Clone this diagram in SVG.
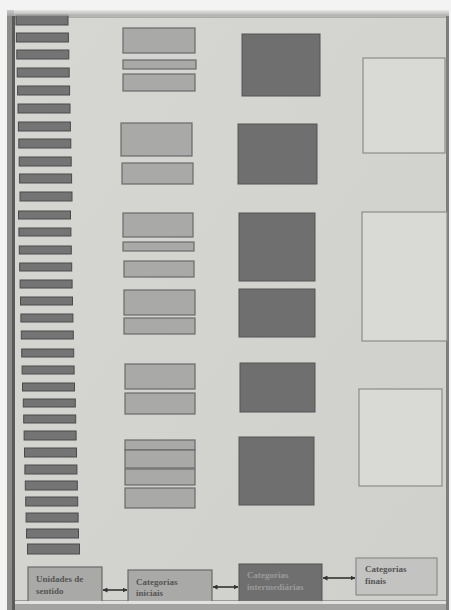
<svg xmlns="http://www.w3.org/2000/svg" width="451" height="610" viewBox="0 0 451 610">
<defs>
<linearGradient id="page" x1="0" y1="0" x2="1" y2="1">
<stop offset="0" stop-color="#d6d6d3"/>
<stop offset="0.5" stop-color="#d3d3d0"/>
<stop offset="1" stop-color="#cfcfcb"/>
</linearGradient>
<linearGradient id="topband" x1="0" y1="0" x2="0" y2="1">
<stop offset="0" stop-color="#e8e8e8"/>
<stop offset="1" stop-color="#a9a9a7"/>
</linearGradient>
<marker id="ah" viewBox="0 0 10 10" refX="9" refY="5" markerWidth="5" markerHeight="5" orient="auto-start-reverse" markerUnits="userSpaceOnUse">
<path d="M0,0 L10,5 L0,10 z" fill="#333"/>
</marker>
<style>
.bar{fill:#747474;stroke:#4a4a4a;stroke-width:1}
.ini{fill:#a9a9a8;stroke:#6a6a6a;stroke-width:1.2}
.mid{fill:#6f6f6f;stroke:#555;stroke-width:1}
.fin{fill:#d9d9d6;stroke:#8c8c8c;stroke-width:1.2}
.lbl{font-family:"Liberation Serif",serif;font-weight:bold;font-size:9px;fill:#555}
.lblm{font-family:"Liberation Serif",serif;font-weight:bold;font-size:9px;fill:#9a9a9a}
.conn{stroke:#333;stroke-width:1.6;fill:none;marker-start:url(#ah);marker-end:url(#ah)}
</style>
</defs>
<!-- photo surround -->
<rect x="0" y="0" width="451" height="610" fill="#f3f3f3"/>
<rect x="7" y="10" width="442" height="600" fill="#9a9a98"/>
<rect x="7" y="10" width="442" height="8" fill="url(#topband)"/>
<rect x="7" y="10" width="7" height="600" fill="#8c8c8a"/>
<rect x="12" y="16" width="3" height="594" fill="#5a5a58"/>
<rect x="446" y="16" width="3" height="594" fill="#7d7d7b"/>
<!-- page -->
<rect x="15" y="18" width="431" height="582" fill="url(#page)"/>

<g id="unidades-bars">
<rect class="bar" x="16.0" y="15" width="52" height="10"/>
<rect class="bar" x="16.4" y="33" width="52" height="9"/>
<rect class="bar" x="16.8" y="50" width="52" height="9"/>
<rect class="bar" x="17.2" y="68" width="52" height="9"/>
<rect class="bar" x="17.6" y="86" width="52" height="9"/>
<rect class="bar" x="18.0" y="104" width="52" height="9"/>
<rect class="bar" x="18.4" y="122" width="52" height="9"/>
<rect class="bar" x="18.8" y="139" width="52" height="9"/>
<rect class="bar" x="19.2" y="157" width="52" height="9"/>
<rect class="bar" x="19.6" y="174" width="52" height="9"/>
<rect class="bar" x="20.0" y="192" width="52" height="9"/>
<rect class="bar" x="18.5" y="211" width="52" height="8"/>
<rect class="bar" x="18.9" y="228" width="52" height="8"/>
<rect class="bar" x="19.3" y="246" width="52" height="8"/>
<rect class="bar" x="19.7" y="263" width="52" height="8"/>
<rect class="bar" x="20.1" y="280" width="52" height="8"/>
<rect class="bar" x="20.5" y="297" width="52" height="8"/>
<rect class="bar" x="20.9" y="314" width="52" height="8"/>
<rect class="bar" x="21.3" y="331" width="52" height="8"/>
<rect class="bar" x="21.7" y="349" width="52" height="8"/>
<rect class="bar" x="22.1" y="366" width="52" height="8"/>
<rect class="bar" x="22.5" y="383" width="52" height="8"/>
<rect class="bar" x="23.3" y="399" width="52" height="8"/>
<rect class="bar" x="23.7" y="415" width="52" height="8"/>
<rect class="bar" x="24.1" y="431" width="52" height="9"/>
<rect class="bar" x="24.5" y="448" width="52" height="9"/>
<rect class="bar" x="24.9" y="465" width="52" height="9"/>
<rect class="bar" x="25.3" y="481" width="52" height="9"/>
<rect class="bar" x="25.7" y="497" width="52" height="9"/>
<rect class="bar" x="26.1" y="513" width="52" height="9"/>
<rect class="bar" x="26.5" y="529" width="52" height="9"/>
<rect class="bar" x="27.5" y="544" width="52" height="10"/>
</g>
<!-- top frame edge overlapping first bar -->
<rect x="7" y="10" width="442" height="6" fill="url(#topband)" opacity="0.7"/>

<g id="categorias-iniciais-grupos">
<rect class="ini" x="123" y="28" width="72" height="25"/>
<rect class="ini" x="123" y="60" width="73" height="9"/>
<rect class="ini" x="123" y="74" width="72" height="17"/>
<rect class="ini" x="121" y="123" width="71" height="33"/>
<rect class="ini" x="122" y="163" width="71" height="21"/>
<rect class="ini" x="123" y="213" width="70" height="24"/>
<rect class="ini" x="123" y="242" width="71" height="9"/>
<rect class="ini" x="124" y="261" width="70" height="16"/>
<rect class="ini" x="124" y="290" width="71" height="25"/>
<rect class="ini" x="124" y="318" width="71" height="16"/>
<rect class="ini" x="125" y="364" width="70" height="25"/>
<rect class="ini" x="125" y="393" width="70" height="21"/>
<rect class="ini" x="125" y="440" width="70" height="10"/>
<rect class="ini" x="125" y="450" width="70" height="18"/>
<rect class="ini" x="125" y="469" width="70" height="16"/>
<rect class="ini" x="125" y="488" width="70" height="20"/>
</g>

<g id="categorias-intermediarias-grupos">
<rect class="mid" x="242" y="34" width="78" height="62"/>
<rect class="mid" x="238" y="124" width="79" height="60"/>
<rect class="mid" x="239" y="213" width="76" height="68"/>
<rect class="mid" x="239" y="289" width="76" height="48"/>
<rect class="mid" x="240" y="363" width="75" height="49"/>
<rect class="mid" x="239" y="437" width="75" height="68"/>
</g>

<g id="categorias-finais-grupos">
<rect class="fin" x="363" y="58" width="82" height="95"/>
<rect class="fin" x="362" y="212" width="85" height="129"/>
<rect class="fin" x="359" y="389" width="83" height="97"/>
</g>

<g id="connectors">
<line class="conn" x1="103" y1="590" x2="127" y2="590"/>
<line class="conn" x1="213" y1="587" x2="238" y2="587"/>
<line class="conn" x1="323" y1="578" x2="355" y2="578"/>
</g>

<g id="node-unidades">
<rect class="ini" x="28" y="567" width="74" height="38"/>
<text class="lbl" x="36" y="582">Unidades de</text>
<text class="lbl" x="36" y="594">sentido</text>
</g>
<g id="node-iniciais">
<rect class="ini" x="128" y="570" width="84" height="36"/>
<text class="lbl" x="136" y="585">Categorias</text>
<text class="lbl" x="136" y="596">iniciais</text>
</g>
<g id="node-intermediarias">
<rect class="mid" x="239" y="564" width="83" height="39"/>
<text class="lblm" x="247" y="578">Categorias</text>
<text class="lblm" x="247" y="590">intermediárias</text>
</g>
<g id="node-finais">
<rect class="fin" x="356" y="558" width="81" height="37" style="fill:#c3c3c1"/>
<text class="lbl" x="365" y="572">Categorias</text>
<text class="lbl" x="365" y="584">finais</text>
</g>
<!-- bottom page edge highlight over boxes -->
<rect x="15" y="601" width="431" height="3" fill="#ececea" opacity="0.85"/>
<rect x="15" y="604" width="431" height="6" fill="#a3a3a1"/>
</svg>
